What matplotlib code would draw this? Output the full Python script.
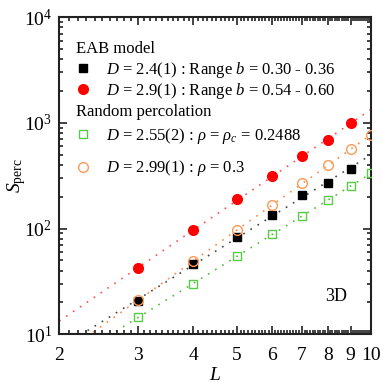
import matplotlib
matplotlib.use('Agg')
import numpy as np
import matplotlib.pyplot as plt
from matplotlib.ticker import FixedLocator, FixedFormatter, LogLocator, LogFormatterMathtext, NullFormatter

plt.rcParams['font.family'] = 'Liberation Serif'
plt.rcParams['mathtext.fontset'] = 'custom'
plt.rcParams['mathtext.rm'] = 'Liberation Serif'
plt.rcParams['mathtext.it'] = 'Liberation Serif:italic'

# data
L = [3, 4, 5, 6, 7, 8, 9]
L_rp = [3, 4, 5, 6, 7, 8, 9, 10]
eab_b030 = [20.5, 46, 83, 134, 207, 268, 364]
eab_b054 = [42, 96, 190, 313, 483, 685, 993]
rp_c = [14.5, 29.7, 54.7, 88, 131, 185, 251, 334]
rp_03 = [21, 49, 96, 166, 268, 397, 563, 764]

xticks = [2, 3, 4, 5, 6, 7, 8, 9, 10]

fig, ax = plt.subplots(figsize=(3.82, 3.82), dpi=100)
fig.subplots_adjust(left=0.155, right=0.971, top=0.955, bottom=0.125)

Lfit = np.linspace(2, 10, 100)

def fit_line(x, y, color):
    p = np.polyfit(np.log10(x), np.log10(y), 1)
    ax.plot(Lfit, 10 ** np.polyval(p, np.log10(Lfit)), ls=(0, (1, 4)),
            color=color, lw=1.2, zorder=1)

fit_line(L, eab_b054, '#ff5050')
fit_line(L, eab_b030, '#444444')
fit_line(L_rp, rp_c, '#55bb33')
fit_line(L_rp, rp_03, '#ff8844')

h1, = ax.plot(L, eab_b030, 's', color='black', ms=6, ls='none', zorder=3)
h2, = ax.plot(L, eab_b054, 'o', color='#ff0000', ms=7, ls='none', zorder=3)
h3, = ax.plot(L_rp, rp_c, 's', mfc='none', mec='#55cc44', mew=1.0, ms=6, ls='none', zorder=3)
h4, = ax.plot(L_rp, rp_03, 'o', mfc='none', mec='#ff9955', mew=1.0, ms=7, ls='none', zorder=3)

ax.set_xscale('log')
ax.set_yscale('log')
ax.set_xlim(2, 10)
ax.set_ylim(10, 1e4)

ax.xaxis.set_major_locator(FixedLocator(xticks))
ax.xaxis.set_major_formatter(FixedFormatter([str(t) for t in xticks]))
ax.xaxis.set_minor_locator(FixedLocator(np.arange(2, 10.01, 0.1)))
ax.xaxis.set_minor_formatter(NullFormatter())
ax.yaxis.set_major_locator(LogLocator(base=10))
ax.yaxis.set_major_formatter(LogFormatterMathtext())
ax.yaxis.set_minor_locator(LogLocator(base=10, subs=np.arange(2, 10)))
ax.yaxis.set_minor_formatter(NullFormatter())

ax.tick_params(which='both', direction='in', top=True, right=True, labelsize=14, width=1.2, color='#222222')
ax.tick_params(which='major', length=6)
ax.tick_params(axis='x', which='major', pad=9)
ax.tick_params(axis='y', which='major', pad=5)
ax.tick_params(which='minor', length=3)
for s in ax.spines.values():
    s.set_linewidth(1.5)
    s.set_color('#222222')

ax.set_xlabel('$L$', fontsize=14, labelpad=2)
ax.set_ylabel(r'$S_{\mathrm{perc}}$', fontsize=14)
ax.yaxis.set_label_coords(-0.1, 0.5)

leg1 = ax.legend([h1, h2],
                 [r'$D$ = 2.4(1) : Range $b$ = 0.30 - 0.36',
                  r'$D$ = 2.9(1) : Range $b$ = 0.54 - 0.60'],
                 title='EAB model', alignment='left', loc='upper left',
                 bbox_to_anchor=(0.054, 0.925), frameon=False, fontsize=12,
                 title_fontsize=12, handlelength=0.8, handletextpad=1.0,
                 borderpad=0, labelspacing=0.05, borderaxespad=0)
leg1._legend_box.sep = 2
ax.add_artist(leg1)
leg2 = ax.legend([h3, h4],
                 [r'$D$ = 2.55(2) : $\rho$ = $\rho_c$ = 0.2488',
                  r'$D$ = 2.99(1) : $\rho$ = 0.3'],
                 title='Random percolation', alignment='left', loc='upper left',
                 bbox_to_anchor=(0.054, 0.725), frameon=False, fontsize=12,
                 title_fontsize=12, handlelength=0.8, handletextpad=1.0,
                 borderpad=0, labelspacing=0.75, borderaxespad=0)
leg2._legend_box.sep = 4

ax.text(0.888, 0.12, '3D', transform=ax.transAxes, fontsize=13, ha='center', va='center')

fig.savefig('out.png', dpi=100)
